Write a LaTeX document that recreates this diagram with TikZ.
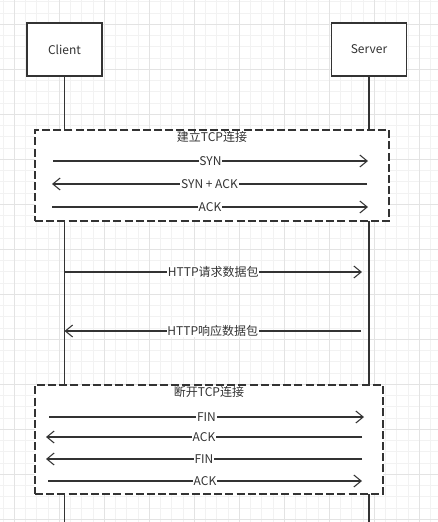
\documentclass[tikz,border=0pt]{standalone}
\usepackage{fontspec}
\setmainfont{Noto Sans CJK SC}
\usetikzlibrary{arrows.meta}
\definecolor{ink}{HTML}{333333}
\definecolor{gridminor}{HTML}{F2F2F2}
\definecolor{gridmajor}{HTML}{E3E3E3}
\tikzset{
  actor/.style={draw=ink, line width=0.9pt, fill=white, minimum width=56.25pt, minimum height=39.75pt, inner sep=0pt, font=\fontsize{9pt}{11pt}\selectfont, text=ink},
  lifeline/.style={draw=ink, line width=0.9pt},
  phase/.style={draw=ink, line width=0.9pt, fill=white, dash pattern=on 6pt off 2.4pt},
  phasetitle/.style={font=\fontsize{9pt}{11pt}\selectfont, text=ink, inner sep=1pt},
  msg/.style={draw=ink, line width=0.8pt, -{Straight Barb[length=5.5pt,width=9pt,line width=0.8pt]}},
  msglabel/.style={fill=white, inner sep=0.6pt, font=\fontsize{9pt}{11pt}\selectfont, text=ink},
}
\begin{document}
\begin{tikzpicture}[x=0.75pt,y=-0.75pt]
\useasboundingbox (0,0) rectangle (438,522);
\begin{scope}
\clip (0,0) rectangle (438,522);
\foreach \i in {0,...,39} {\draw[gridminor, line width=0.75pt] (3.05+11.25*\i,0) -- (3.05+11.25*\i,522);}
\foreach \i in {0,...,46} {\draw[gridminor, line width=0.75pt] (0,1.8+11.25*\i) -- (438,1.8+11.25*\i);}
\foreach \i in {0,...,9} {\draw[gridmajor, line width=0.75pt] (14.3+45*\i,0) -- (14.3+45*\i,522);}
\foreach \i in {0,...,11} {\draw[gridmajor, line width=0.75pt] (0,24.3+45*\i) -- (438,24.3+45*\i);}
\end{scope}

% actors
\node[actor] (client) at (64.5,49.5) {Client};
\node[actor] (server) at (369,49.5) {Server};
\coordinate (cend) at (64.5,522);
\coordinate (send) at (369,522);
\draw[lifeline] (client.south) -- (cend);
\draw[lifeline] (server.south) -- (send);

% phase 1
\node[phase, minimum width=265.5pt, minimum height=68.25pt, inner sep=0pt] (p1) at (212,175.5) {};
\node[phasetitle, anchor=north] (p1t) at (212,130) {建立TCP连接};
\coordinate (a1s) at (53,161);  \coordinate (a1e) at (368,161);
\coordinate (a2s) at (367,184); \coordinate (a2e) at (52,184);
\coordinate (a3s) at (52,207);  \coordinate (a3e) at (368,207);
\draw[msg] (a1s) -- node[msglabel] (l1) {SYN} (a1e);
\draw[msg] (a2s) -- node[msglabel] (l2) {SYN + ACK} (a2e);
\draw[msg] (a3s) -- node[msglabel] (l3) {ACK} (a3e);

% http
\coordinate (h1s) at (64.5,272); \coordinate (h1e) at (362,272);
\coordinate (h2s) at (361,331);  \coordinate (h2e) at (64.5,331);
\draw[msg] (h1s) -- node[msglabel] (lh1) {HTTP请求数据包} (h1e);
\draw[msg] (h2s) -- node[msglabel] (lh2) {HTTP响应数据包} (h2e);

% phase 2
\node[phase, minimum width=261pt, minimum height=81.75pt, inner sep=0pt] (p2) at (209,439.5) {};
\node[phasetitle, anchor=north] (p2t) at (209,385) {断开TCP连接};
\coordinate (b1s) at (49,417);  \coordinate (b1e) at (364,417);
\coordinate (b2s) at (362,437); \coordinate (b2e) at (46,437);
\coordinate (b3s) at (362,459); \coordinate (b3e) at (46,459);
\coordinate (b4s) at (48,481);  \coordinate (b4e) at (362,481);
\draw[msg] (b1s) -- node[msglabel] (m1) {FIN} (b1e);
\draw[msg] (b2s) -- node[msglabel] (m2) {ACK} (b2e);
\draw[msg] (b3s) -- node[msglabel] (m3) {FIN} (b3e);
\draw[msg] (b4s) -- node[msglabel] (m4) {ACK} (b4e);
\end{tikzpicture}
\end{document}
